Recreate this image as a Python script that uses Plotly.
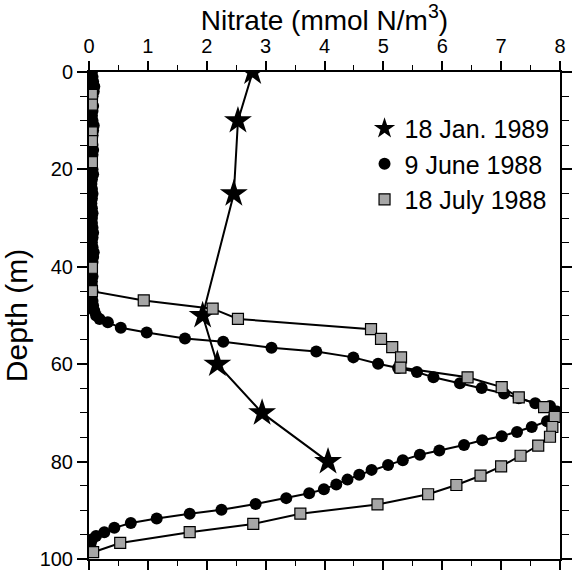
import plotly.graph_objects as go

# 18 Jan. 1989 (stars)
jan_nitrate = [2.78, 2.53, 2.46, 1.93, 2.18, 2.94, 4.06]
jan_depth = [0, 10, 25, 50, 60, 70, 80]

# 9 June 1988 (circles)
june_depth = [0, 1, 2, 3, 4, 5, 6, 7, 8, 9, 10, 11, 12, 13, 14, 15, 16, 17, 18, 19,
              20, 21, 22, 23, 24, 25, 26, 27, 28, 29, 30, 31, 32, 33, 34, 35, 36, 37,
              38, 39, 40, 41, 42, 43, 44, 45, 46, 47, 48, 49, 50, 50.7, 51.4, 52.5,
              53.5, 54.7, 55.4, 56.6, 57.4, 58.6, 59.9, 60.8, 61.6, 62.7, 63.9, 64.9,
              66.0, 67.0, 68.0, 68.6, 69.7, 70.7, 71.7, 72.9, 73.9, 74.8, 75.6, 76.6,
              77.7, 78.6, 79.7, 80.7, 81.7, 82.7, 83.7, 84.7, 85.7, 86.5, 87.5, 88.7,
              89.9, 90.7, 91.7, 92.6, 93.6, 94.5, 95.3, 96.0, 96.7, 97.3]
june_nitrate = [0.05, 0.06, 0.07, 0.09, 0.08, 0.06, 0.05, 0.07, 0.06, 0.05, 0.06, 0.08,
                0.07, 0.06, 0.05, 0.06, 0.07, 0.06, 0.05, 0.05, 0.06, 0.07, 0.05, 0.04,
                0.05, 0.06, 0.05, 0.04, 0.05, 0.06, 0.05, 0.05, 0.06, 0.07, 0.06, 0.05,
                0.06, 0.08, 0.07, 0.06, 0.05, 0.05, 0.06, 0.05, 0.05, 0.06, 0.05, 0.06,
                0.07, 0.09, 0.12, 0.18, 0.32, 0.54, 0.98, 1.63, 2.28, 3.10, 3.86, 4.49,
                4.91, 5.25, 5.57, 5.85, 6.30, 6.67, 7.05, 7.30, 7.58, 7.83, 7.94, 7.90,
                7.78, 7.52, 7.27, 7.01, 6.68, 6.37, 5.95, 5.62, 5.33, 5.08, 4.80, 4.59,
                4.39, 4.20, 3.99, 3.74, 3.35, 2.83, 2.25, 1.71, 1.15, 0.71, 0.43, 0.26,
                0.12, 0.05, 0.03, 0.02]

# 18 July 1988 (squares)
july_depth = [4.7, 6.7, 12.4, 14.2, 18.5, 40.2, 45, 46.9, 48.6, 50.7, 52.8, 54.8, 56.5,
              58.6, 60.7, 62.7, 64.7, 66.8, 68.8, 70.8, 72.9, 74.9, 76.7, 78.8, 81.0,
              82.9, 84.8, 86.7, 88.8, 90.7, 92.8, 94.5, 96.7, 98.6]
july_nitrate = [0.05, 0.05, 0.05, 0.05, 0.05, 0.05, 0.05, 0.93, 2.10, 2.53, 4.79, 4.96,
                5.15, 5.30, 5.29, 6.43, 7.01, 7.30, 7.73, 7.91, 7.87, 7.83, 7.63, 7.33,
                7.00, 6.65, 6.24, 5.76, 4.90, 3.59, 2.79, 1.71, 0.53, 0.07]

series = [
    ("18 Jan. 1989", jan_nitrate, jan_depth, dict(symbol="star", size=21, color="black")),
    ("9 June 1988", june_nitrate, june_depth, dict(symbol="circle", size=12, color="black")),
    ("18 July 1988", july_nitrate, july_depth,
     dict(symbol="square", size=11, color="#a6a6a6", line=dict(color="black", width=1.2))),
]

fig = go.Figure()
for name, xs, ys, mk in series:
    fig.add_trace(go.Scatter(x=xs, y=ys, mode="lines", line=dict(color="black", width=2),
                             showlegend=False, hoverinfo="skip"))
for i, (name, xs, ys, mk) in enumerate(series):
    fig.add_trace(go.Scatter(x=xs, y=ys, mode="markers", marker=mk, name=name,
                             legendgroup=f"g{i}"))

font = "Liberation Sans, Arial, Helvetica, sans-serif"
fig.update_layout(
    width=577, height=575,
    margin=dict(l=89, r=5, t=72, b=13),
    paper_bgcolor="white", plot_bgcolor="white",
    font=dict(family=font, color="black", size=20),
    legend=dict(x=0.585, y=0.931, xanchor="left", yanchor="top",
                font=dict(size=25, family=font), bgcolor="rgba(0,0,0,0)",
                tracegroupgap=0, itemwidth=30),
    xaxis=dict(side="top", range=[0, 8], dtick=1, tick0=0,
               showgrid=False, zeroline=False,
               showline=True, linecolor="black", linewidth=2, mirror="allticks",
               ticks="outside", ticklen=9, tickwidth=1.5, tickcolor="black",
               tickfont=dict(size=20),
               minor=dict(dtick=0.5, ticks="outside", ticklen=5, tickwidth=1.2,
                          tickcolor="black", showgrid=False),
               title=dict(text="Nitrate (mmol N/m<sup>3</sup>)", font=dict(size=28),
                          standoff=4)),
    yaxis=dict(range=[100, 0], dtick=20, tick0=0,
               showgrid=False, zeroline=False,
               showline=True, linecolor="black", linewidth=2, mirror="allticks",
               ticks="outside", ticklen=10, tickwidth=1.5, tickcolor="black",
               tickfont=dict(size=20),
               minor=dict(dtick=5, ticks="outside", ticklen=7, tickwidth=1.2,
                          tickcolor="black", showgrid=False),
               title=dict(text="Depth (m)", font=dict(size=30), standoff=6)),
)

fig.write_html("out.html")
